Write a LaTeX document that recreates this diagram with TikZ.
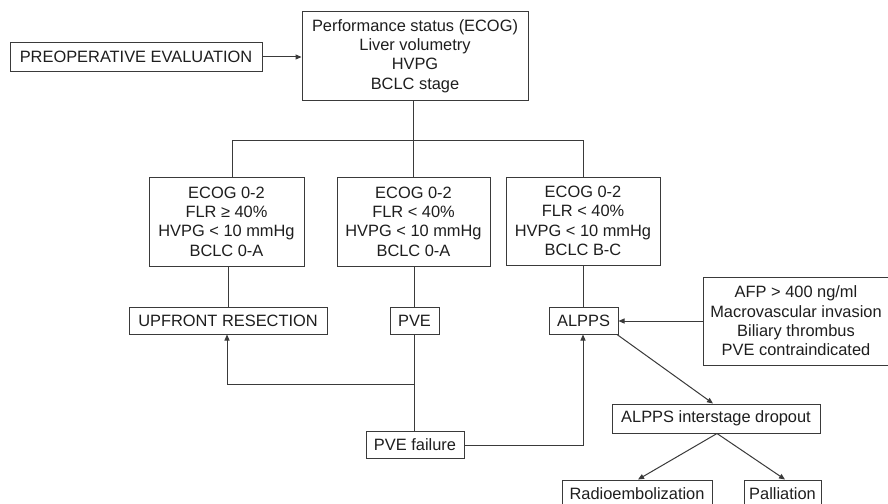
\documentclass[tikz,border=0pt]{standalone}
\usepackage{fontspec}
\setmainfont{Liberation Sans}
\usetikzlibrary{arrows.meta}
\definecolor{ln}{HTML}{3A3A3A}
\definecolor{tx}{HTML}{1E1E1E}
\tikzset{
  bx/.style={draw=ln, line width=1pt, inner sep=0pt, align=center, text=tx,
    font=\fontsize{16.4}{19.4}\selectfont},
  cn/.style={draw=ln, line width=1pt},
  ar/.style={cn, -{Triangle[length=6pt,width=5pt]}},
}
\begin{document}
\begin{tikzpicture}[x=1pt,y=-1pt]
\useasboundingbox (0,0) rectangle (888,503);
\fill[white] (0,0) rectangle (888,503);
\node[bx, minimum width=252pt, minimum height=28pt] (pre) at (136,57) {PREOPERATIVE EVALUATION};
\node[bx, minimum width=226pt, minimum height=88pt] (top) at (415,56) {Performance status (ECOG)\\Liver volumetry\\HVPG\\BCLC stage};
\node[bx, minimum width=155pt, minimum height=89pt] (left) at (226.5,221.5) {ECOG 0-2\\FLR ≥ 40\%\\HVPG < 10 mmHg\\BCLC 0-A};
\node[bx, minimum width=153pt, minimum height=89pt] (mid) at (413.5,221.5) {ECOG 0-2\\FLR < 40\%\\HVPG < 10 mmHg\\BCLC 0-A};
\node[bx, minimum width=154pt, minimum height=88pt] (right) at (583,221) {ECOG 0-2\\FLR < 40\%\\HVPG < 10 mmHg\\BCLC B-C};
\node[bx, minimum width=198pt, minimum height=27pt] (up) at (228,320.5) {UPFRONT RESECTION};
\node[bx, minimum width=49pt, minimum height=27pt] (pve) at (414.5,320.5) {PVE};
\node[bx, minimum width=69pt, minimum height=27pt] (alpps) at (583.5,320.5) {ALPPS};
\node[bx, minimum width=186pt, minimum height=88pt] (afp) at (796,321) {AFP > 400 ng/ml\\Macrovascular invasion\\Biliary thrombus\\PVE contraindicated};
\node[bx, minimum width=98pt, minimum height=27pt] (fail) at (415,444.5) {PVE failure};
\node[bx, minimum width=208pt, minimum height=29pt] (drop) at (716,418.5) {ALPPS interstage dropout};
\node[bx, minimum width=150pt, minimum height=28pt] (radio) at (637,494) {Radioembolization};
\node[bx, minimum width=77pt, minimum height=28pt] (pall) at (782.5,494) {Palliation};
\coordinate (bus) at (413,140);
\coordinate (busl) at (232,140);
\coordinate (busr) at (583,140);
\coordinate (br) at (414,384);
\coordinate (brl) at (227,384);
\coordinate (fr) at (583,445);
% connectors
\draw[ar] (pre.east) -- (pre.east -| top.west);
\draw[cn] (top.south -| bus) -- (bus);
\draw[cn] (busl |- left.north) -- (busl) -- (busr) -- (right.north);
\draw[cn] (bus) -- (bus |- mid.north);
\draw[cn] (left.south -| up.north) -- (up.north);
\draw[cn] (br |- mid.south) -- (br |- pve.north);
\draw[cn] (br |- pve.south) -- (br |- fail.north);
\draw[ar] (br) -- (brl) -- (brl |- up.south);
\draw[cn] (right.south) -- (right.south |- alpps.north);
\draw[ar] (afp.west) -- (afp.west -| alpps.east);
\draw[ar] (fail.east |- fr) -- (fr) -- (fr |- alpps.south);
\draw[ar] ([xshift=-1.5pt]alpps.south east) -- ([xshift=-3pt]drop.north);
\draw[ar] ([xshift=1pt]drop.south) -- ([xshift=1pt]radio.north);
\draw[ar] ([xshift=1pt]drop.south) -- ([xshift=2.5pt]pall.north);
\end{tikzpicture}
\end{document}
